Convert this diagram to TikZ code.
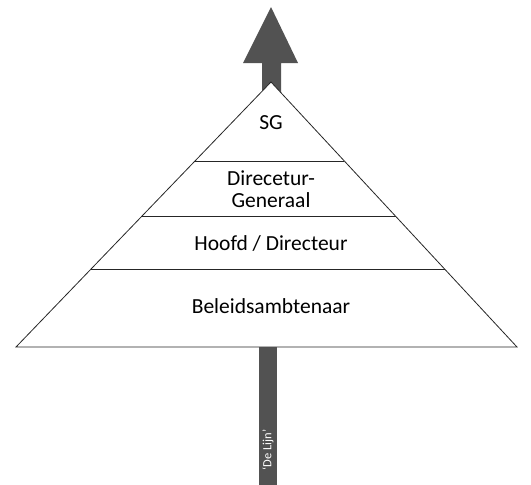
\documentclass[tikz,border=0pt]{standalone}
\usepackage{fontspec}
\setmainfont{Carlito}
\usetikzlibrary{calc}
\begin{document}
\begin{tikzpicture}[x=1pt,y=-1pt,
  layer/.style={font=\fontsize{21.5}{22}\selectfont, align=center, inner sep=0pt},
  edge/.style={draw=black!85, line width=0.8pt}]
\useasboundingbox (0,0) rectangle (531,485);
% upward arrow
\fill[black!68] (271,7) -- (298,63) -- (281,63) -- (281,150) -- (262,150) -- (262,63) -- (243,63) -- cycle;
% bottom bar
\fill[black!68] (259,347) rectangle (277,485);
% pyramid
\coordinate (apex) at (271,82);
\coordinate (bl) at (16,347);
\coordinate (br) at (517,347);
\filldraw[fill=white, edge] (apex) -- (bl) -- (br) -- cycle;
\draw[edge] ($(apex)!0.298!(bl)$) -- ($(apex)!0.298!(br)$);
\draw[edge] ($(apex)!0.509!(bl)$) -- ($(apex)!0.509!(br)$);
\draw[edge] ($(apex)!0.706!(bl)$) -- ($(apex)!0.706!(br)$);
\node[layer] (sg) at (271,123) {SG};
\node[layer] (dg) at (271,189) {Direcetur-\\Generaal};
\node[layer] (hd) at (271,243) {Hoofd / Directeur};
\node[layer] (ba) at (271,306) {Beleidsambtenaar};
\node[rotate=90, text=white, font=\fontsize{12.5}{14}\selectfont, inner sep=0pt] (lijn) at (268,450) {‘De Lijn’};
\end{tikzpicture}
\end{document}
